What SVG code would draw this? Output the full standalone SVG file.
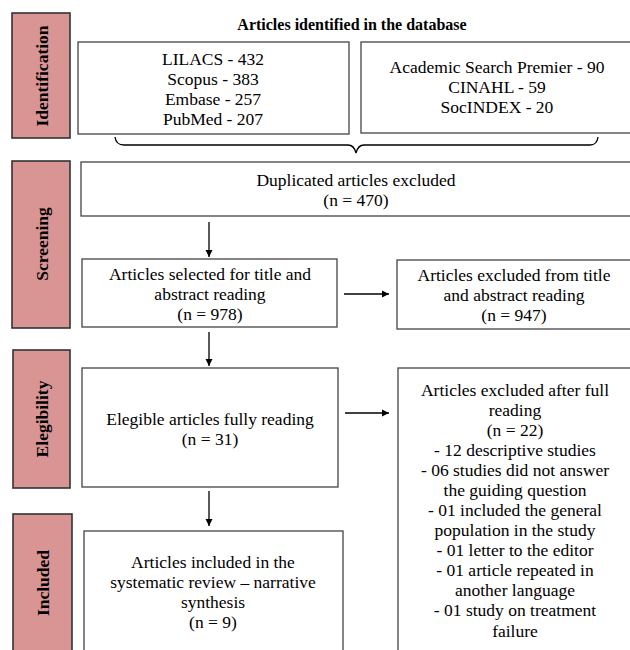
<svg xmlns="http://www.w3.org/2000/svg" width="630" height="650" viewBox="0 0 630 650">
<defs>
<marker id="ah" markerWidth="8" markerHeight="8" refX="7" refY="4" orient="auto" markerUnits="userSpaceOnUse">
<path d="M0,0.5 L7,4 L0,7.5 Z" fill="#000"/>
</marker>
<style>
.t{font-size:17.5px;fill:#000;text-anchor:middle}
.b{font-weight:bold;fill:#000;text-anchor:middle}
.side{fill:#D99594;stroke:#333;stroke-width:1.6}
.box{fill:#fff;stroke:#444;stroke-width:1.3}
.c{stroke:#000;stroke-width:1.3;fill:none}
</style>
</defs>
<rect width="630" height="650" fill="#fff"/>
<g style="font-family:'Liberation Serif',serif">

<g id="phase-identification">
<rect class="side" x="12" y="13" width="58" height="125"/>
<text class="b" font-size="17.5" transform="translate(48,76) rotate(-90)">Identification</text>
</g>
<g id="phase-screening">
<rect class="side" x="12" y="161" width="58" height="167"/>
<text class="b" font-size="17.5" transform="translate(48,244) rotate(-90)">Screening</text>
</g>
<g id="phase-elegibility">
<rect class="side" x="13" y="350" width="57" height="138"/>
<text class="b" font-size="17.5" transform="translate(48,419) rotate(-90)">Elegibility</text>
</g>
<g id="phase-included">
<rect class="side" x="13" y="514" width="59" height="150"/>
<text class="b" font-size="17.5" transform="translate(49,583) rotate(-90)">Included</text>
</g>

<g id="title">
<text class="b" font-size="16" x="352" y="30">Articles identified in the database</text>
</g>

<g id="db-left">
<rect class="box" x="78" y="42" width="271" height="92"/>
<text class="t" x="213" y="65">LILACS - 432</text>
<text class="t" x="213" y="85">Scopus - 383</text>
<text class="t" x="213" y="105">Embase - 257</text>
<text class="t" x="213" y="125">PubMed - 207</text>
</g>
<g id="db-right">
<rect class="box" x="361" y="42" width="272" height="91"/>
<text class="t" x="497" y="73">Academic Search Premier - 90</text>
<text class="t" x="497" y="93">CINAHL - 59</text>
<text class="t" x="497" y="113">SocINDEX - 20</text>
</g>

<g id="duplicates">
<rect class="box" x="81" y="162" width="552" height="54"/>
<text class="t" x="356" y="186">Duplicated articles excluded</text>
<text class="t" x="356" y="206">(n = 470)</text>
</g>
<g id="selected">
<rect class="box" x="82" y="259" width="255" height="68"/>
<text class="t" x="210" y="280">Articles selected for title and</text>
<text class="t" x="210" y="300">abstract reading</text>
<text class="t" x="210" y="320">(n = 978)</text>
</g>
<g id="excluded-title">
<rect class="box" x="397" y="260" width="236" height="69"/>
<text class="t" x="514" y="281">Articles excluded from title</text>
<text class="t" x="514" y="301">and abstract reading</text>
<text class="t" x="514" y="321">(n = 947)</text>
</g>
<g id="elegible">
<rect class="box" x="82" y="368" width="256" height="119"/>
<text class="t" x="210" y="425">Elegible articles fully reading</text>
<text class="t" x="210" y="445">(n = 31)</text>
</g>
<g id="excluded-full">
<rect class="box" x="398" y="368" width="235" height="290"/>
<text class="t" x="515" y="396">Articles excluded after full</text>
<text class="t" x="515" y="416">reading</text>
<text class="t" x="515" y="436">(n = 22)</text>
<text class="t" x="515" y="456">- 12 descriptive studies</text>
<text class="t" x="515" y="476">- 06 studies did not answer</text>
<text class="t" x="515" y="496">the guiding question</text>
<text class="t" x="515" y="516">- 01 included the general</text>
<text class="t" x="515" y="536">population in the study</text>
<text class="t" x="515" y="556">- 01 letter to the editor</text>
<text class="t" x="515" y="576">- 01 article repeated in</text>
<text class="t" x="515" y="596">another language</text>
<text class="t" x="515" y="616">- 01 study on treatment</text>
<text class="t" x="515" y="637">failure</text>
</g>
<g id="included">
<rect class="box" x="84" y="531" width="259" height="130"/>
<text class="t" x="213" y="568">Articles included in the</text>
<text class="t" x="213" y="588">systematic review – narrative</text>
<text class="t" x="213" y="608">synthesis</text>
<text class="t" x="213" y="628">(n = 9)</text>
</g>
</g>

<g id="connectors">
<path class="c" d="M115,137 Q116,145 124,145 L348,145 Q354,145 356,153 Q358,145 364,145 L590,145 Q597,145 598,137"/>
<line class="c" x1="209" y1="222" x2="209" y2="257" marker-end="url(#ah)"/>
<line class="c" x1="344" y1="294" x2="389" y2="294" marker-end="url(#ah)"/>
<line class="c" x1="209" y1="332" x2="209" y2="366" marker-end="url(#ah)"/>
<line class="c" x1="345" y1="413" x2="389" y2="413" marker-end="url(#ah)"/>
<line class="c" x1="209" y1="491" x2="209" y2="526" marker-end="url(#ah)"/>
</g>
</svg>
